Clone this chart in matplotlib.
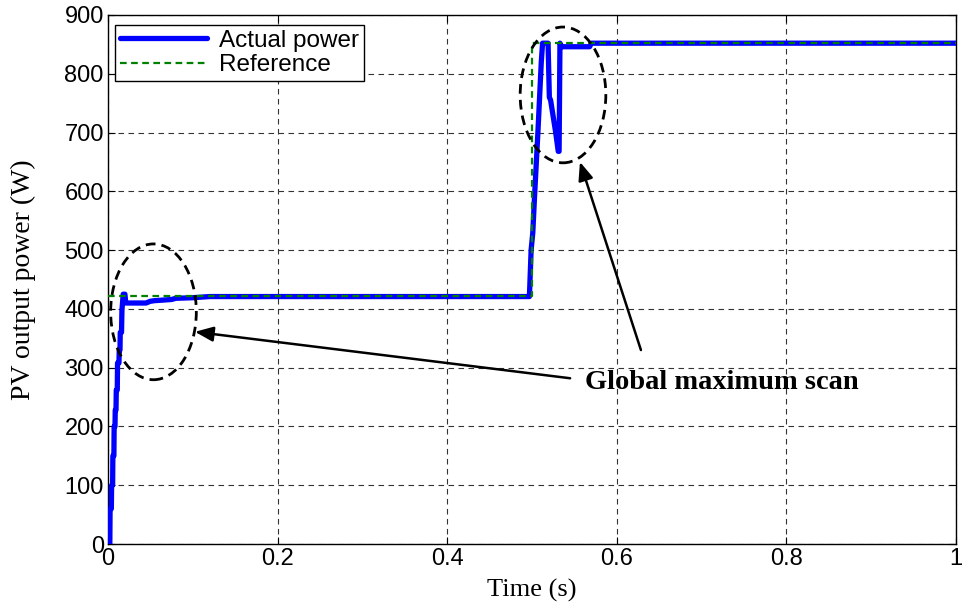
import matplotlib
matplotlib.use("Agg")
import matplotlib.pyplot as plt
from matplotlib.patches import Ellipse

# PV output power under MPPT with a global maximum scan
t_actual = [0.0, 0.0022, 0.0025, 0.0040, 0.0043, 0.0055, 0.0058, 0.0070, 0.0073,
            0.0083, 0.0086, 0.0095, 0.0098, 0.0110, 0.0113, 0.0130, 0.0133,
            0.0142, 0.0145, 0.0160, 0.0165, 0.0180, 0.0200, 0.0210, 0.0450,
            0.0500, 0.0550, 0.0750, 0.0800, 0.1000, 0.1200, 0.4970, 0.4990,
            0.5010, 0.5030, 0.5050, 0.5070, 0.5090, 0.5110, 0.5125, 0.5190,
            0.5205, 0.5220, 0.5280, 0.5310, 0.5320, 0.5330, 0.5350, 0.5680,
            0.5700, 1.0]
p_actual = [0, 0, 60, 60, 100, 100, 150, 150, 200,
            200, 228, 228, 262, 262, 308, 308, 330,
            330, 360, 360, 398, 425, 425, 410, 410,
            413, 414, 416, 418, 419, 421, 421, 500,
            530, 590, 645, 700, 760, 820, 852, 852,
            760, 755, 700, 668, 668, 852, 846, 846,
            852, 852]

t_ref = [0.0, 0.5, 0.5, 1.0]
p_ref = [422, 422, 852, 852]

x_ticks = [0, 0.2, 0.4, 0.6, 0.8, 1.0]
x_tick_labels = ["0", "0.2", "0.4", "0.6", "0.8", "1"]
y_ticks = list(range(0, 901, 100))

fig = plt.figure(figsize=(9.63, 6.04), dpi=100)
ax = fig.add_axes([0.1121, 0.0993, 0.8806, 0.8759])

ax.plot(t_actual, p_actual, color="#0000ff", lw=3.8, label="Actual power",
        solid_joinstyle="round", solid_capstyle="round", zorder=3)
ax.plot(t_ref, p_ref, color="#008000", lw=1.6, ls=(0, (3, 2)),
        label="Reference", zorder=4)

ax.set_xlim(0, 1)
ax.set_ylim(0, 900)
ax.set_xticks(x_ticks)
ax.set_xticklabels(x_tick_labels)
ax.set_yticks(y_ticks)

for lab in ax.get_xticklabels() + ax.get_yticklabels():
    lab.set_fontfamily("Liberation Sans")
    lab.set_fontsize(17)

ax.tick_params(direction="in", top=True, right=True, length=5, width=0.8,
               pad=3)
ax.grid(True, color="#333333", ls=(0, (5, 4)), lw=0.8)
for sp in ax.spines.values():
    sp.set_linewidth(1.0)

ax.set_xlabel("Time (s)", fontfamily="Liberation Serif", fontsize=19)
ax.xaxis.set_label_coords(0.5, -0.066)
ax.set_ylabel("PV output power (W)", fontfamily="Liberation Serif",
              fontsize=20)
ax.yaxis.set_label_coords(-0.085, 0.5)

leg = ax.legend(loc="upper left", bbox_to_anchor=(0.008, 0.981),
                borderaxespad=0, fancybox=False, framealpha=1,
                edgecolor="black", handlelength=3.6, handletextpad=0.5,
                borderpad=0.2, labelspacing=0.1,
                prop={"family": "Liberation Sans", "size": 17.5})
leg.get_frame().set_linewidth(1.0)

# dashed ellipses around the scan regions
for cx, cy in [(0.0537, 395), (0.5366, 764)]:
    ax.add_patch(Ellipse((cx, cy), 0.101, 231, fill=False, ec="black",
                         lw=2.0, ls=(0, (3.5, 2.2)), zorder=5))

ax.text(0.5625, 274, "Global maximum scan", fontfamily="Liberation Serif",
        fontweight="bold", fontsize=20.5, va="center", ha="left", zorder=6)

arrow_kw = dict(arrowstyle="-|>,head_length=1.1,head_width=0.45",
                color="black", lw=1.8, shrinkA=0, shrinkB=0)
ax.annotate("", xy=(0.1026, 361), xytext=(0.545, 282),
            arrowprops=arrow_kw, zorder=6)
ax.annotate("", xy=(0.5566, 650), xytext=(0.6285, 330),
            arrowprops=arrow_kw, zorder=6)

fig.savefig("out.png", dpi=100)
